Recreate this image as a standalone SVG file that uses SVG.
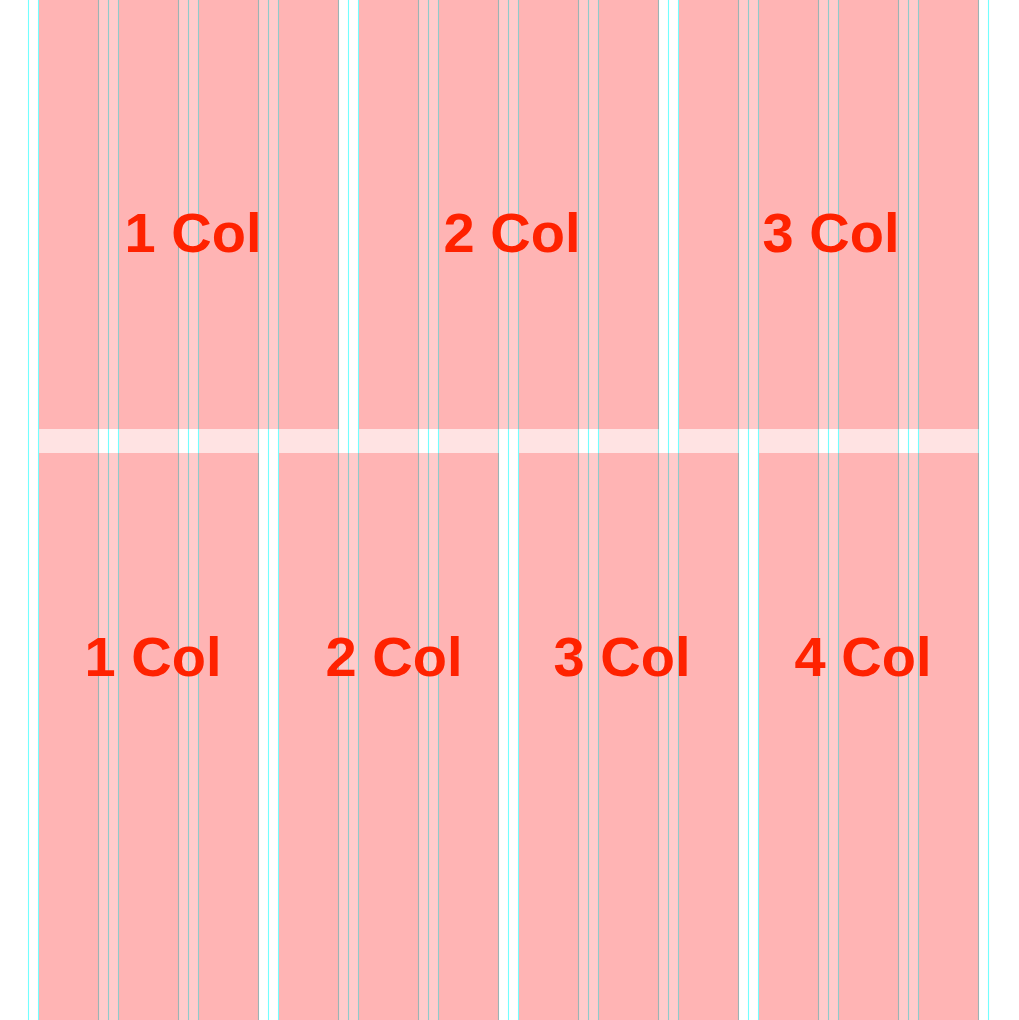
<svg xmlns="http://www.w3.org/2000/svg" width="1019" height="1020" viewBox="0 0 1019 1020">
<style>
.col{fill:#ff0000;fill-opacity:0.11}
.ln{stroke:#00ffff;stroke-opacity:0.55;stroke-width:1.1}
.blk{fill:#ff0000;fill-opacity:0.205}
.lbl{font-family:"Liberation Sans",Arial,Helvetica,sans-serif;font-weight:bold;font-size:56px;fill:#ff2200;text-anchor:middle}
</style>
<rect x="0" y="0" width="1019" height="1020" fill="#ffffff"/>
<g id="gridlines">
<line class="ln" x1="28.5" y1="0" x2="28.5" y2="1020"/>
<line class="ln" x1="988.5" y1="0" x2="988.5" y2="1020"/>
<line class="ln" x1="38.5" y1="0" x2="38.5" y2="1020"/><line class="ln" x1="98.5" y1="0" x2="98.5" y2="1020"/><line class="ln" x1="108.5" y1="0" x2="108.5" y2="1020"/>
<line class="ln" x1="118.5" y1="0" x2="118.5" y2="1020"/><line class="ln" x1="178.5" y1="0" x2="178.5" y2="1020"/><line class="ln" x1="188.5" y1="0" x2="188.5" y2="1020"/>
<line class="ln" x1="198.5" y1="0" x2="198.5" y2="1020"/><line class="ln" x1="258.5" y1="0" x2="258.5" y2="1020"/><line class="ln" x1="268.5" y1="0" x2="268.5" y2="1020"/>
<line class="ln" x1="278.5" y1="0" x2="278.5" y2="1020"/><line class="ln" x1="338.5" y1="0" x2="338.5" y2="1020"/><line class="ln" x1="348.5" y1="0" x2="348.5" y2="1020"/>
<line class="ln" x1="358.5" y1="0" x2="358.5" y2="1020"/><line class="ln" x1="418.5" y1="0" x2="418.5" y2="1020"/><line class="ln" x1="428.5" y1="0" x2="428.5" y2="1020"/>
<line class="ln" x1="438.5" y1="0" x2="438.5" y2="1020"/><line class="ln" x1="498.5" y1="0" x2="498.5" y2="1020"/><line class="ln" x1="508.5" y1="0" x2="508.5" y2="1020"/>
<line class="ln" x1="518.5" y1="0" x2="518.5" y2="1020"/><line class="ln" x1="578.5" y1="0" x2="578.5" y2="1020"/><line class="ln" x1="588.5" y1="0" x2="588.5" y2="1020"/>
<line class="ln" x1="598.5" y1="0" x2="598.5" y2="1020"/><line class="ln" x1="658.5" y1="0" x2="658.5" y2="1020"/><line class="ln" x1="668.5" y1="0" x2="668.5" y2="1020"/>
<line class="ln" x1="678.5" y1="0" x2="678.5" y2="1020"/><line class="ln" x1="738.5" y1="0" x2="738.5" y2="1020"/><line class="ln" x1="748.5" y1="0" x2="748.5" y2="1020"/>
<line class="ln" x1="758.5" y1="0" x2="758.5" y2="1020"/><line class="ln" x1="818.5" y1="0" x2="818.5" y2="1020"/><line class="ln" x1="828.5" y1="0" x2="828.5" y2="1020"/>
<line class="ln" x1="838.5" y1="0" x2="838.5" y2="1020"/><line class="ln" x1="898.5" y1="0" x2="898.5" y2="1020"/><line class="ln" x1="908.5" y1="0" x2="908.5" y2="1020"/>
<line class="ln" x1="918.5" y1="0" x2="918.5" y2="1020"/><line class="ln" x1="978.5" y1="0" x2="978.5" y2="1020"/>
</g>
<g id="columns">
<rect class="col" x="39" y="0" width="60" height="1020"/>
<rect class="col" x="119" y="0" width="60" height="1020"/>
<rect class="col" x="199" y="0" width="60" height="1020"/>
<rect class="col" x="279" y="0" width="60" height="1020"/>
<rect class="col" x="359" y="0" width="60" height="1020"/>
<rect class="col" x="439" y="0" width="60" height="1020"/>
<rect class="col" x="519" y="0" width="60" height="1020"/>
<rect class="col" x="599" y="0" width="60" height="1020"/>
<rect class="col" x="679" y="0" width="60" height="1020"/>
<rect class="col" x="759" y="0" width="60" height="1020"/>
<rect class="col" x="839" y="0" width="60" height="1020"/>
<rect class="col" x="919" y="0" width="60" height="1020"/>
</g>
<g id="top-1"><rect class="blk" x="39" y="0" width="300" height="429"/><text class="lbl" x="193" y="252">1 Col</text></g>
<g id="top-2"><rect class="blk" x="359" y="0" width="300" height="429"/><text class="lbl" x="512" y="252">2 Col</text></g>
<g id="top-3"><rect class="blk" x="679" y="0" width="300" height="429"/><text class="lbl" x="831" y="252">3 Col</text></g>
<g id="bottom-1"><rect class="blk" x="39" y="453" width="220" height="567"/><text class="lbl" x="153" y="676">1 Col</text></g>
<g id="bottom-2"><rect class="blk" x="279" y="453" width="220" height="567"/><text class="lbl" x="394" y="676">2 Col</text></g>
<g id="bottom-3"><rect class="blk" x="519" y="453" width="220" height="567"/><text class="lbl" x="622" y="676">3 Col</text></g>
<g id="bottom-4"><rect class="blk" x="759" y="453" width="220" height="567"/><text class="lbl" x="863" y="676">4 Col</text></g>
</svg>
